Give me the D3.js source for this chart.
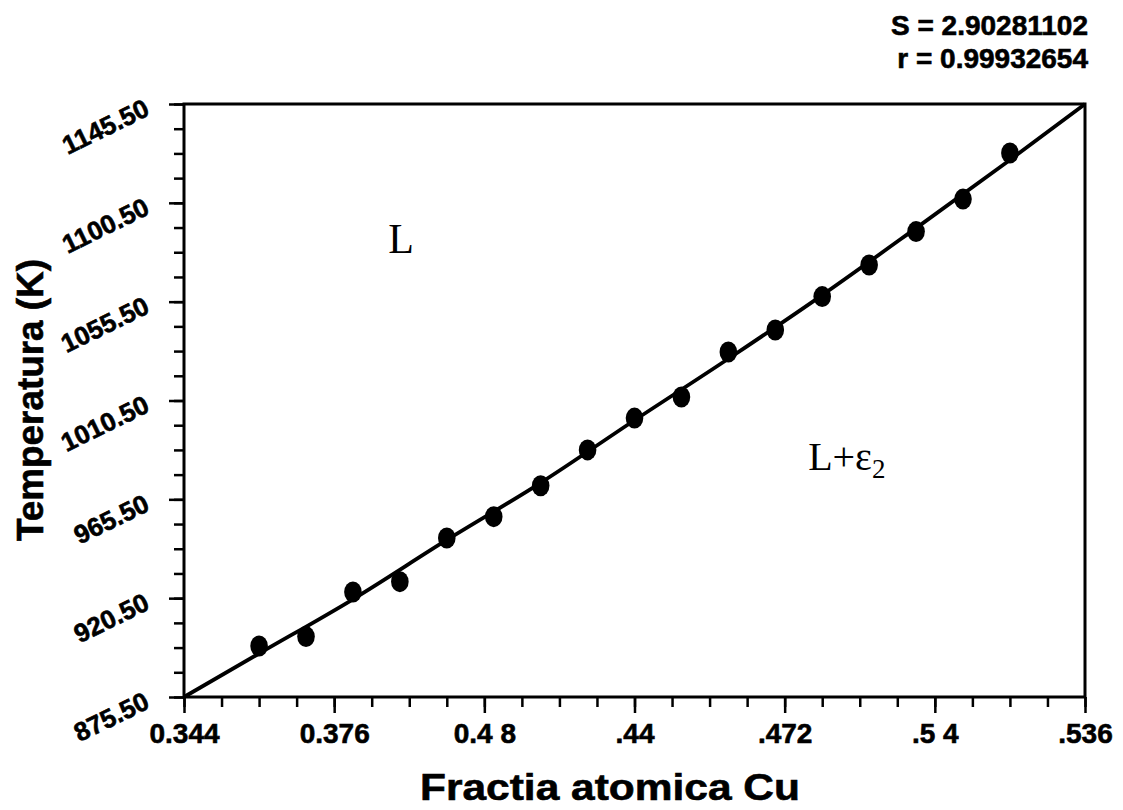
<!DOCTYPE html>
<html>
<head>
<meta charset="utf-8">
<script src="https://cdn.jsdelivr.net/npm/d3@7"></script>
<style>
  html, body { margin: 0; padding: 0; background: #fff; }
  svg { display: block; }
  .sans { font-family: "Liberation Sans", Arial, sans-serif; font-weight: bold;
          stroke: #000; stroke-width: 0.6px; }
  .serif { font-family: "Liberation Serif", "Times New Roman", serif; }
</style>
</head>
<body>
<svg id="chart" width="1123" height="810"></svg>
<script>
// Liquidus data: atomic fraction of Cu vs temperature (K)
const cuFraction = [0.36, 0.37, 0.38, 0.39, 0.40, 0.41, 0.42, 0.43, 0.44,
                    0.45, 0.46, 0.47, 0.48, 0.49, 0.50, 0.51, 0.52];
const temperature = [898.7, 903.0, 923.3, 928.0, 947.9, 957.6, 971.7, 988.0, 1002.5,
                     1012.1, 1032.6, 1042.6, 1057.8, 1072.2, 1087.4, 1102.2, 1123.2];

// Fitted liquidus curve
const fitFraction = [0.344, 0.36, 0.38, 0.40, 0.42, 0.44, 0.46, 0.48, 0.50, 0.52, 0.536];
const fitTemperature = [875.5, 895.3, 920.0, 947.0, 973.0, 1001.5, 1029.5, 1058.5, 1089.0, 1120.0, 1145.5];

// Axis ticks
const xTicks = [0.344, 0.376, 0.408, 0.44, 0.472, 0.504, 0.536];
const xTickLabels = ["0.344", "0.376", "0.4 8", ".44", ".472", ".5 4", ".536"];
const yTicks = [875.5, 920.5, 965.5, 1010.5, 1055.5, 1100.5, 1145.5];
const yTickLabels = ["875.50", "920.50", "965.50", "1010.50", "1055.50", "1100.50", "1145.50"];

const fitStats = ["S = 2.90281102", "r = 0.99932654"];

const svg = d3.select("#chart");
const plotLeft = 184, plotRight = 1085, plotTop = 104, plotBottom = 697;

const x = d3.scaleLinear().domain([0.344, 0.536]).range([plotLeft, plotRight]);
const y = d3.scaleLinear().domain([875.5, 1145.5]).range([plotBottom, plotTop]);

const xMinor = d3.range(0, 25).map(i => 0.344 + i * 0.008);
const yMinor = d3.range(0, 25).map(i => 875.5 + i * 11.25);

// minor ticks
svg.append("g").attr("transform", `translate(0,${plotBottom})`)
  .call(d3.axisBottom(x).tickValues(xMinor).tickSize(10).tickFormat(""))
  .call(g => g.select(".domain").remove())
  .selectAll("line").attr("stroke", "#000").attr("stroke-width", 2.5);
svg.append("g").attr("transform", `translate(${plotLeft},0)`)
  .call(d3.axisLeft(y).tickValues(yMinor).tickSize(10).tickFormat(""))
  .call(g => g.select(".domain").remove())
  .selectAll("line").attr("stroke", "#000").attr("stroke-width", 2.5);

// major ticks + labels
const gx = svg.append("g").attr("transform", `translate(0,${plotBottom})`)
  .call(d3.axisBottom(x).tickValues(xTicks).tickSize(16).tickPadding(3)
    .tickFormat((d, i) => xTickLabels[i]));
gx.select(".domain").remove();
gx.selectAll("line").attr("stroke", "#000").attr("stroke-width", 2.5);
gx.selectAll("text").attr("class", "sans").attr("font-size", 28).attr("fill", "#000")
  .attr("dy", "0.95em");

const gy = svg.append("g").attr("transform", `translate(${plotLeft},0)`)
  .call(d3.axisLeft(y).tickValues(yTicks).tickSize(15)
    .tickFormat((d, i) => yTickLabels[i]));
gy.select(".domain").remove();
gy.selectAll("line").attr("stroke", "#000").attr("stroke-width", 2.5);
gy.selectAll("text").attr("class", "sans").attr("font-size", 26).attr("fill", "#000")
  .attr("text-anchor", "end").attr("x", null).attr("dy", null)
  .attr("transform", "translate(-33,10) rotate(-26)");

// frame
svg.append("rect")
  .attr("x", plotLeft).attr("y", plotTop)
  .attr("width", plotRight - plotLeft).attr("height", plotBottom - plotTop)
  .attr("fill", "none").attr("stroke", "#000").attr("stroke-width", 3);

// fitted curve
const line = d3.line()
  .x((d, i) => x(fitFraction[i]))
  .y((d, i) => y(fitTemperature[i]))
  .curve(d3.curveMonotoneX);
svg.append("path").datum(fitFraction)
  .attr("d", line).attr("fill", "none")
  .attr("stroke", "#000").attr("stroke-width", 3.8).attr("stroke-linejoin", "round");

// data points
svg.append("g").selectAll("ellipse").data(cuFraction).join("ellipse")
  .attr("cx", d => x(d))
  .attr("cy", (d, i) => y(temperature[i]))
  .attr("rx", 8.8).attr("ry", 10.5)
  .attr("fill", "#000");

// region labels
svg.append("text").attr("class", "serif")
  .attr("x", x(0.3875)).attr("y", y(1077.7))
  .attr("font-size", 42).text("L");
const l2 = svg.append("text").attr("class", "serif")
  .attr("x", x(0.477)).attr("y", y(979))
  .attr("font-size", 40);
l2.append("tspan").text("L+ε");
l2.append("tspan").attr("font-size", 27).attr("dy", 8).text("2");

// fit statistics
svg.append("g").selectAll("text").data(fitStats).join("text")
  .attr("class", "sans")
  .attr("x", 1088).attr("y", (d, i) => 35 + i * 33)
  .attr("text-anchor", "end").attr("font-size", 28)
  .text(d => d);

// axis titles
svg.append("text").attr("class", "sans")
  .attr("x", 610).attr("y", 800)
  .attr("text-anchor", "middle").attr("font-size", 37)
  .attr("textLength", 380).attr("lengthAdjust", "spacingAndGlyphs")
  .text("Fractia atomica Cu");
svg.append("text").attr("class", "sans")
  .attr("transform", `translate(43,400) rotate(-90)`)
  .attr("text-anchor", "middle").attr("font-size", 36)
  .attr("textLength", 282).attr("lengthAdjust", "spacingAndGlyphs")
  .text("Temperatura (K)");
</script>
</body>
</html>
